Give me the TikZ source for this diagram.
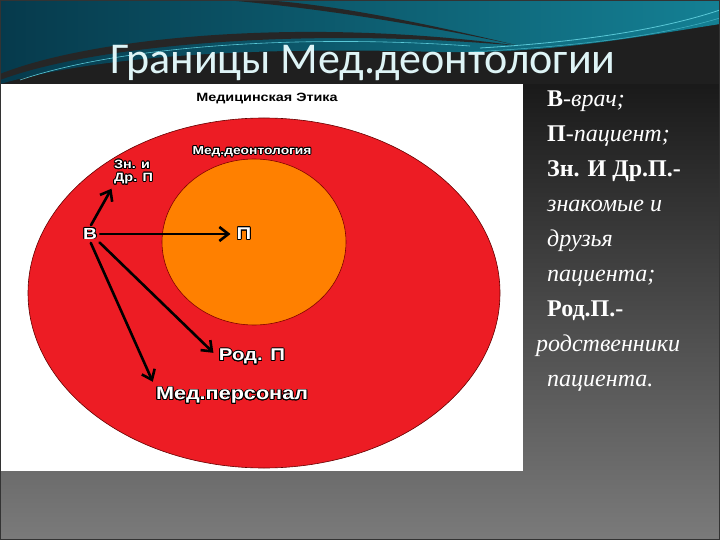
\documentclass[tikz,border=0pt]{standalone}
\usepackage{fontspec}
\setmainfont{Liberation Serif}
\setsansfont{Liberation Sans}
\newfontfamily\titlefont{Carlito}
\newfontfamily\lblfont[FakeStretch=1.2]{Liberation Sans}
\usepackage{contour}
\contourlength{0.8pt}
\usetikzlibrary{arrows.meta,shapes.geometric}
\definecolor{etred}{RGB}{237,28,36}
\definecolor{deorange}{RGB}{255,128,0}
\definecolor{tealdark}{RGB}{6,58,76}
\definecolor{teallight}{RGB}{20,128,148}
\definecolor{tealglow}{RGB}{90,200,215}
\definecolor{titlecol}{RGB}{222,244,246}
\def\wlbl#1{\contour{black}{#1}}
\tikzset{
	lbl/.style={font=\lblfont\bfseries\fontsize{#1}{#1}\selectfont, inner sep=1pt},
	wlbl/.style={lbl=#1, text=white},
	arr/.style={line width=2.6pt, black, -{Straight Barb[length=9pt,width=14pt,line width=2.6pt]}, line cap=round}
}

\begin{document}
\begin{tikzpicture}[x=1pt,y=-1pt]
		%%%%% START %%%%%
		\useasboundingbox (0,0) rectangle (720,540);
		
		\shade[top color=black!90, bottom color=black!52] (0,84) rectangle (720,540);
		\fill[black!88] (0,0) rectangle (720,84);
		
		\shade[left color=tealdark, right color=teallight] (0,0) -- (720,0) -- (720,24) .. controls (620,40) and (540,54) .. (440,52) .. controls (300,48) and (120,50) .. (0,84) -- cycle;
		\fill[black!85] (0,74) .. controls (90,38) and (300,16) .. (520,46) .. controls (300,26) and (90,46) .. (0,80) -- cycle;
		\fill[black!85] (225,0) .. controls (320,8) and (430,26) .. (520,46) .. controls (420,22) and (330,4) .. (262,0) -- cycle;
		\draw[tealglow, line width=0.6pt] (20,80) .. controls (120,46) and (300,34) .. (470,46);
		\draw[tealglow, line width=0.8pt] (480,48) .. controls (580,42) and (660,30) .. (720,10);
		\draw[tealglow!70!teallight, line width=0.5pt] (470,52) .. controls (580,46) and (660,36) .. (720,18);
		
		\node[font=\titlefont\fontsize{44}{44}\selectfont, text=titlecol, anchor=base, inner sep=0] (title) at (363,74) {Границы Мед.деонтологии};
		
		\fill[white] (0,84) rectangle (523,471);
		
		\node[ellipse, draw=black!60!red, fill=etred, line width=0.6pt, minimum width=472, minimum height=350, inner sep=0] (etika) at (264,293) {};
		\node[ellipse, draw=black!50!red, fill=deorange, line width=0.6pt, minimum width=184, minimum height=166, inner sep=0] (deont) at (254,242) {};
		
		\node[lbl=12] (etlbl) at (267,99) {Медицинская Этика};
		\node[wlbl=11.5] (delbl) at (252,152) {\wlbl{Мед.деонтология}};
		\node[wlbl=12, anchor=north west, align=left] (znak) at (113,159) {\wlbl{Зн. и}\\[1pt]\wlbl{Др. П}};
		\node[wlbl=16] (vrach) at (90,234) {\wlbl{В}};
		\node[wlbl=17] (pac) at (244,234) {\wlbl{П}};
		\node[wlbl=17] (rod) at (252,357) {\wlbl{Род. П}};
		\node[wlbl=18] (pers) at (232,396) {\wlbl{Мед.персонал}};
		
		\draw[arr, shorten <=2pt, shorten >=3pt] (vrach.north) -- (znak.south west);
		\draw[arr, shorten <=2pt, shorten >=5pt] (vrach.east) -- (pac.west);
		\draw[arr, shorten <=2pt, shorten >=6pt] (vrach.south east) -- (rod.west);
		\draw[arr, shorten <=2pt, shorten >=5pt] (vrach.south) -- (pers.north west);
		
		\node[anchor=north west, align=left, text=white, inner sep=0, font=\fontsize{24}{35}\selectfont] (legend) at (547,91) {\textbf{В}-\textit{врач;}\\
			\textbf{П}-\textit{пациент;}\\
			\textbf{Зн. И Др.П.-}\\
			\textit{знакомые и}\\
			\textit{друзья}\\
			\textit{пациента;}\\
			\textbf{Род.П.-}\\
			\hspace*{-11pt}\textit{родственники}\\
			\textit{пациента.}};
		
		\draw[black!80, line width=1pt] (0.5,0.5) rectangle (719.5,539.5);
		%%%%% END %%%%%
	\end{tikzpicture}
\end{document}
